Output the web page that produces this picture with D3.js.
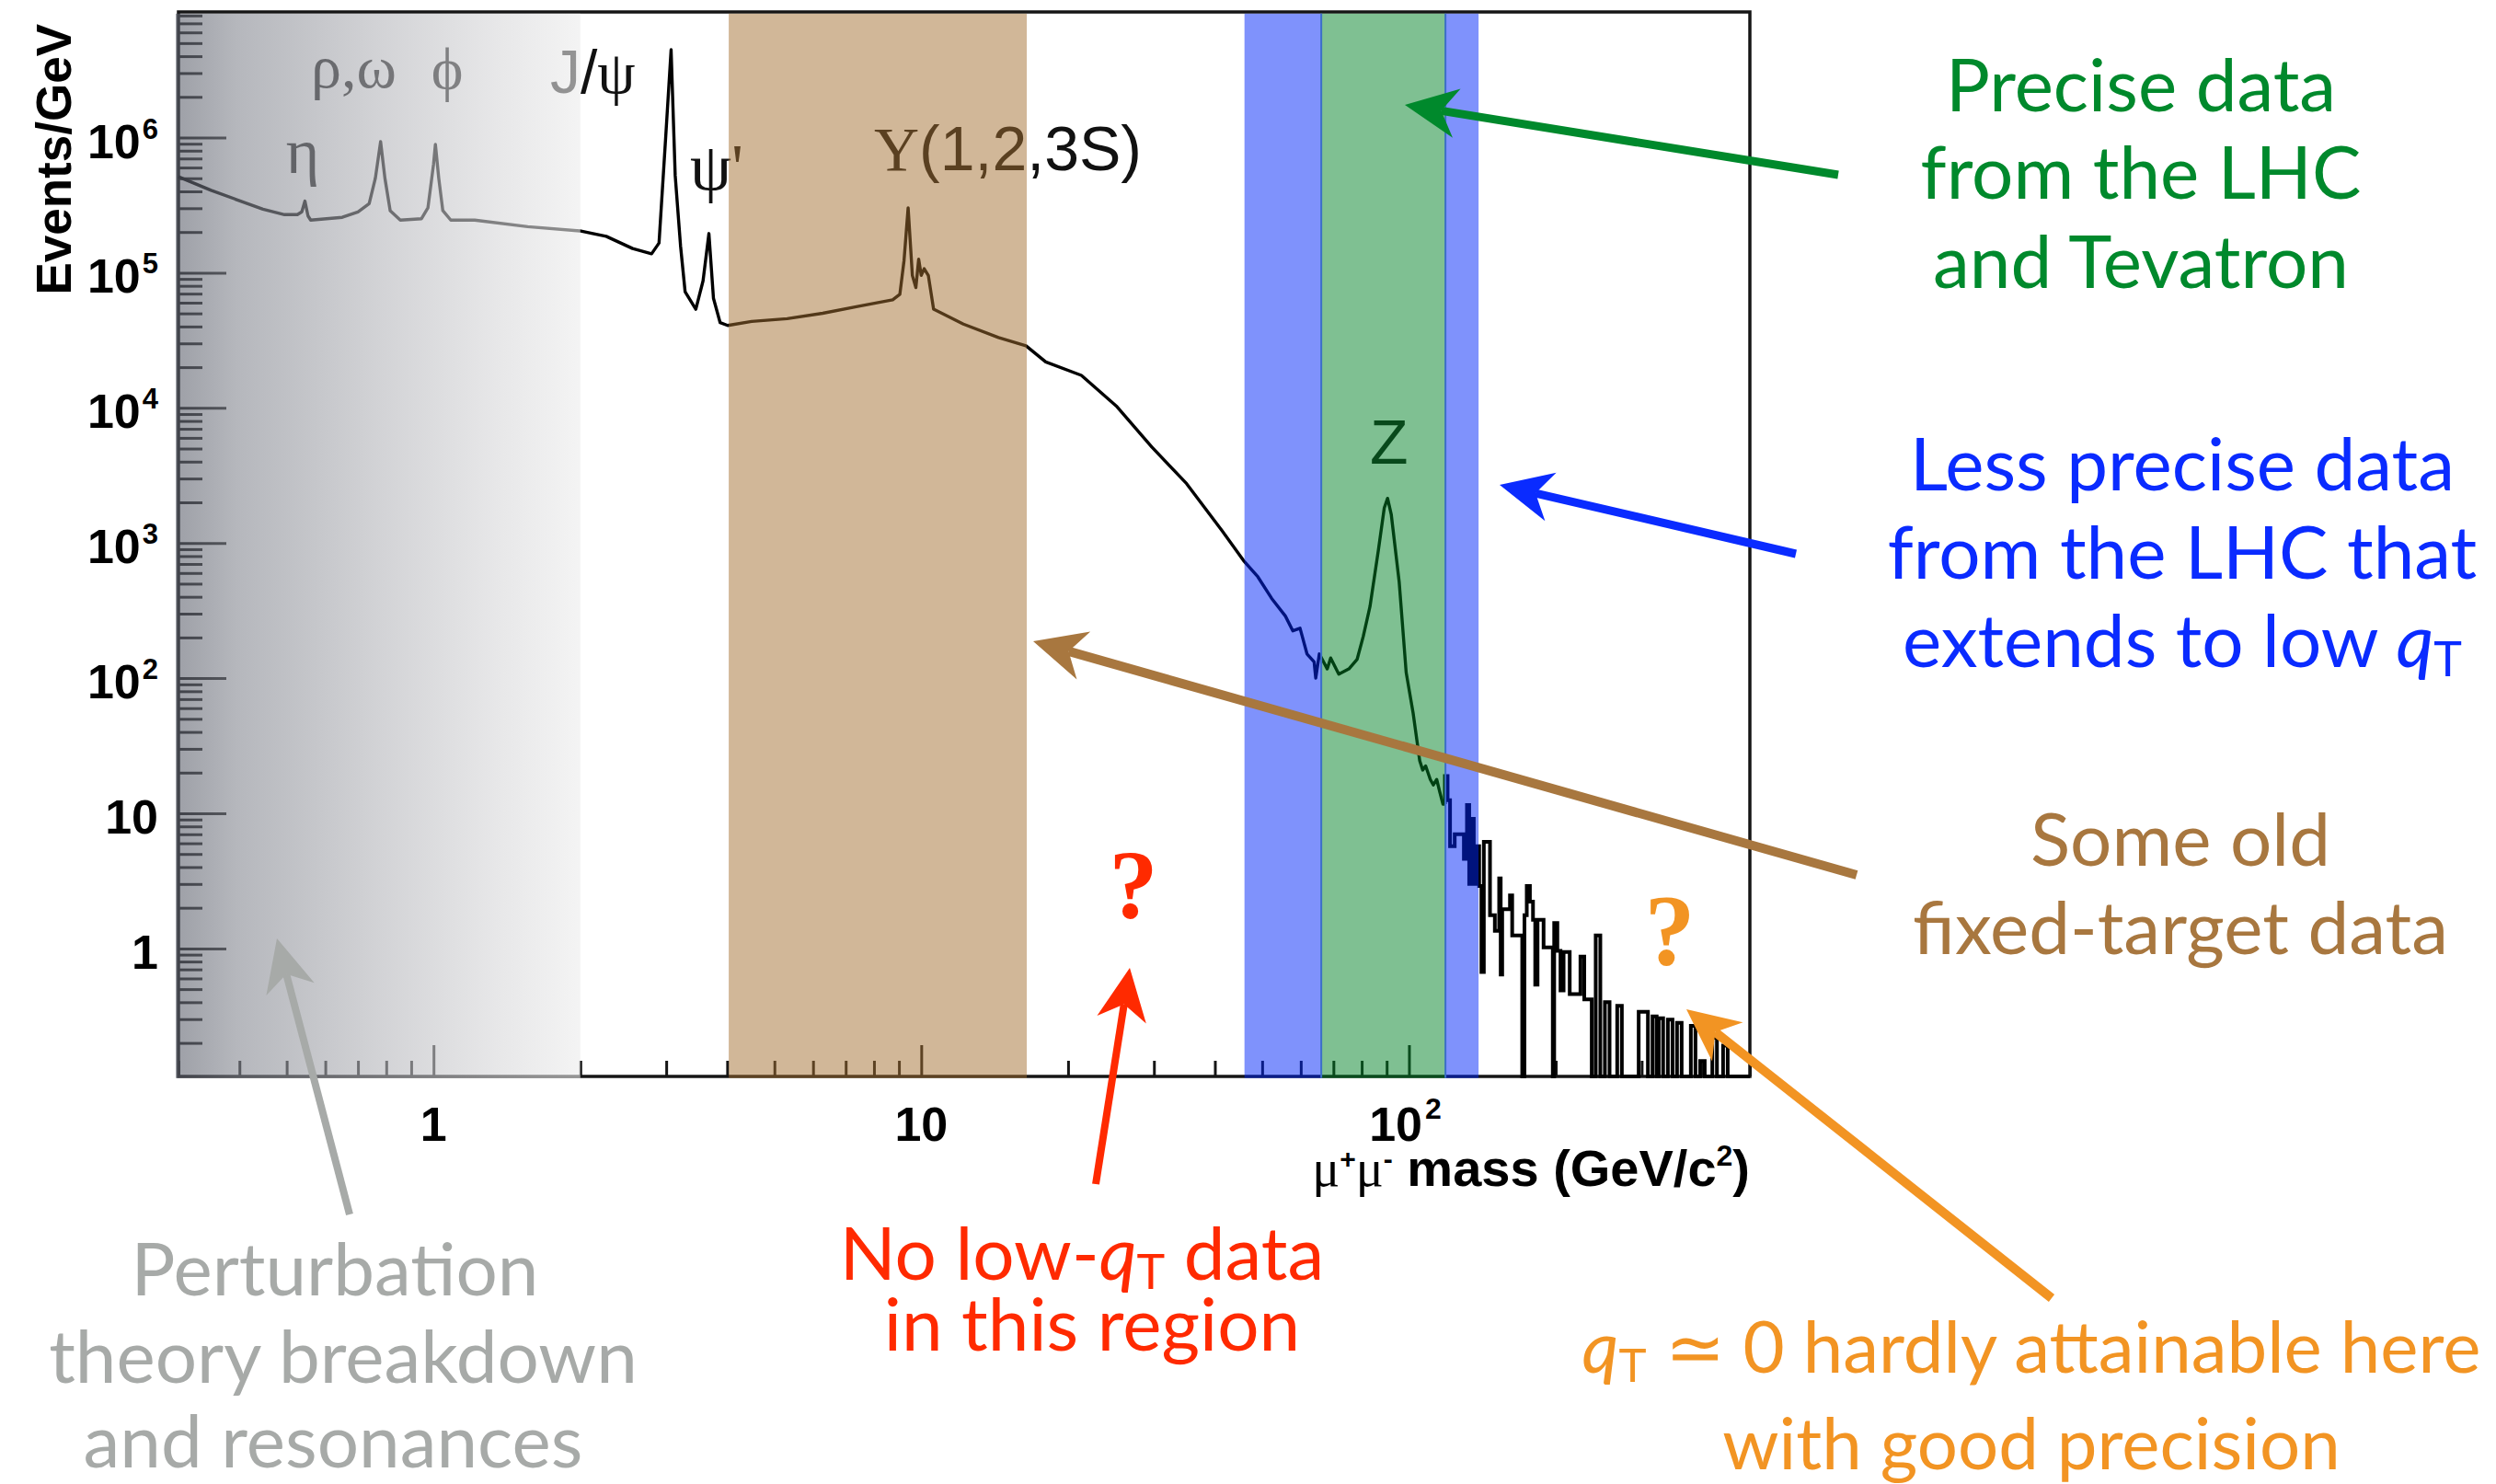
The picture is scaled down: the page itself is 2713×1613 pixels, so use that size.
<!DOCTYPE html>
<html><head><meta charset="utf-8">
<script src="https://cdn.jsdelivr.net/npm/d3@7/dist/d3.min.js"></script>
<style>
html,body{margin:0;padding:0;background:#fff;}
svg{display:block;}
</style></head>
<body>
<svg id="chart" width="2713" height="1613"></svg>
<script>
// ================= DATA =================
// Dimuon invariant-mass spectrum (continuum part)
const massLow = [0.300,0.350,0.395,0.447,0.495,0.526,0.537,0.545,0.553,0.560,0.650,0.700,0.738,0.760,0.779,0.795,0.815,0.855,0.945,0.974,1.000,1.009,1.025,1.045,1.085,1.215,1.560,1.995,2.260,2.560,2.800,2.900,2.990,3.070,3.130,3.210,3.280,3.450,3.570,3.670,3.750,3.870,4.010,4.490,5.310,6.280,7.400,8.740,9.040,9.220,9.400,9.590,9.750,9.880,10.00,10.14,10.34,10.60,12.20,14.40,16.40,18.00,21.30,25.20,29.70,35.00,41.40,45.80,49.00,52.30,55.80,57.80,59.80,61.80,63.90,64.40,65.50,68.00,69.10,71.80,75.30,78.30,80.60,83.20,86.50,89.00,90.40,92.00,95.50,98.70,102.0,105.2,106.7,108.2,110.6,112.2,114.0,115.6,117.4,118.5];
const eventsLow = [513000,407000,347000,295000,269000,269000,282000,339000,263000,245000,257000,282000,324000,501000,933000,501000,288000,245000,251000,302000,631000,891000,501000,288000,245000,245000,219000,204000,186000,151000,138000,166000,955000,4470000,525000,158000,72400,53700,87100,195000,64600,42700,40700,43600,45700,50100,56200,63100,69200,123000,302000,95500,77600,126000,95500,107000,95500,53700,41700,33100,28800,21900,17400,10200,5130,2750,1230,741,562,389,288,224,234,151,132,100,151,117,141,107,117,138,204,339,871,1820,2140,1620,513,110,55,24.5,20.9,22.4,17.8,16.2,17.8,14.5,11.7,11.7];

// High-mass tail drawn as a histogram (bin edges and contents, 0 = empty bin)
const tailEdges = [118.5,120.0,121.4,124.1,129.6,131.5,132.9,134.4,135.8,137.3,139.3,140.8,142.4,146.6,150.0,153.1,154.2,155.3,161.1,162.8,170.7,172.5,174.4,177.0,179.6,181.5,183.5,188.8,197.2,198.5,201.5,204.5,207.5,213.6,224.7,228.8,237.0,241.5,246.8,252.2,257.8,267.3,273.2,295.8,309.0,315.8,322.0,325.1,332.0,339.5,347.0,354.5,362.3,378.4,386.7,395.4,404.0,418.8,428.0,440.6,450.3,500];
const tailValues = [18.9,12.5,5.7,7.0,4.6,11.5,3.0,9.1,3.0,5.7,2.9,0.67,6.15,1.76,1.35,3.3,0.64,1.95,2.47,1.25,0,1.76,2.9,2.22,1.63,0.54,1.63,1.02,0,1.54,0.96,0.49,0.94,0.46,0.87,0.42,0,1.25,0,0.40,0,0.377,0,0.34,0,0.314,0,0.305,0,0.298,0,0.282,0,0.268,0,0.147,0,0.218,0,0.191,0];

// Highlighted mass ranges (GeV)
const bandKeys = ["pert","fixed","lhcLowA","precise","lhcLowB"];
const bandLo   = [0.3, 4.03, 46.0, 66.1, 118.8];
const bandHi   = [2.0, 16.46, 66.1, 118.8, 138.9];

// Axes
const xDomain = [0.3, 500];
const yDomain = [0.113, 8.5e6];
const xMajorTicks = [1, 10, 100];
const xMajorBase = ["1", "10", "10"];
const xMajorExp  = ["", "", "2"];
const yMajorTicks = [1, 10, 100, 1e3, 1e4, 1e5, 1e6];
const yMajorBase = ["1","10","10","10","10","10","10"];
const yMajorExp  = ["","","2","3","4","5","6"];

// ================= LAYOUT =================
const W = 2713, H = 1613;
const L = 194, R = 1902, T = 13, B = 1170;
const svg = d3.select("#chart");
svg.append("rect").attr("width", W).attr("height", H).attr("fill", "#fff");

const x = d3.scaleLog().domain(xDomain).range([L, R]);
const y = d3.scaleLog().domain(yDomain).range([B, T]).clamp(true);

const SANS = "'Liberation Sans', Arial, Helvetica, sans-serif";
const SERIF = "'Liberation Serif', 'DejaVu Serif', 'Times New Roman', serif";
const HUM = "Lato, 'Open Sans', sans-serif";

function minorTicks(lo, hi) {
  const out = [];
  for (let e = -2; e <= 7; e++) for (let k = 2; k <= 9; k++) {
    const v = k * Math.pow(10, e);
    if (v >= lo * 0.999 && v <= hi * 1.001) out.push(v);
  }
  return out;
}
const xMinor = minorTicks(xDomain[0], xDomain[1]);
const yMinor = minorTicks(yDomain[0], yDomain[1]);

const plot = svg.append("g");

// ---- frame & axes ----
const axisCol = "#151515";
plot.append("rect").attr("x", L).attr("y", T).attr("width", R - L).attr("height", B - T)
  .attr("fill", "none").attr("stroke", axisCol).attr("stroke-width", 3.5);

function styleAxis(g) {
  g.select(".domain").remove();
  g.selectAll(".tick line").attr("stroke", axisCol).attr("stroke-width", 3);
  g.selectAll(".tick text").remove();
}
plot.append("g").attr("transform", `translate(0,${B})`)
  .call(d3.axisBottom(x).tickValues(xMinor).tickSize(-17).tickFormat("")).call(styleAxis);
plot.append("g").attr("transform", `translate(0,${B})`)
  .call(d3.axisBottom(x).tickValues(xMajorTicks).tickSize(-34).tickFormat("")).call(styleAxis);
plot.append("g").attr("transform", `translate(${L},0)`)
  .call(d3.axisLeft(y).tickValues(yMinor).tickSize(-26).tickFormat("")).call(styleAxis);
plot.append("g").attr("transform", `translate(${L},0)`)
  .call(d3.axisLeft(y).tickValues(yMajorTicks).tickSize(-52).tickFormat("")).call(styleAxis);

// ---- spectrum ----
const lowPts = d3.zip(massLow, eventsLow);
const line = d3.line().x(d => x(d[0])).y(d => y(Math.max(d[1], yDomain[0])));
plot.append("path").attr("d", line(lowPts))
  .attr("fill", "none").attr("stroke", "#000").attr("stroke-width", 3.4).attr("stroke-linejoin", "round");

const tailPts = [[massLow[massLow.length - 1], eventsLow[eventsLow.length - 1]]]
  .concat(tailValues.map((v, i) => [tailEdges[i], v]))
  .concat([[tailEdges[tailEdges.length - 1], tailValues[tailValues.length - 1]]]);
const step = d3.line().curve(d3.curveStepAfter).x(d => x(d[0])).y(d => y(Math.max(d[1], yDomain[0])));
plot.append("path").attr("d", step(tailPts))
  .attr("fill", "none").attr("stroke", "#000").attr("stroke-width", 4).attr("stroke-linejoin", "miter");

// ---- resonance labels (original figure) ----
const lab = plot.append("g").attr("fill", "#111");
function addText(g, xx, yy, parts, size, anchor) {
  const t = g.append("text").attr("x", xx).attr("y", yy).attr("font-size", size)
    .attr("text-anchor", anchor || "start");
  parts.forEach(p => {
    const s = t.append("tspan").text(p[0]).attr("font-family", p[1] || SANS);
    if (p[2]) s.attr("font-size", p[2]);
  });
  return t;
}
addText(lab, 329, 188, [["η", SERIF]], 70, "middle");
addText(lab, 338, 95, [["ρ,ω", SERIF]], 66);
addText(lab, 486, 97, [["ϕ", SERIF]], 66, "middle");
addText(lab, 598, 101, [["J/", SANS], ["ψ", SERIF]], 66);
addText(lab, 750, 206, [["ψ'", SERIF]], 72);
addText(lab, 950, 185, [["Υ", SERIF], ["(1,2,3S)", SANS]], 68);
addText(lab, 1489, 504, [["Z", SANS]], 68);

// ---- highlighted regions (semi-transparent overlays) ----
const defs = svg.append("defs");
const grad = defs.append("linearGradient").attr("id", "pertGrad").attr("x1", "0").attr("x2", "1").attr("y1", "0").attr("y2", "0");
[[0, "rgb(92,96,108)"], [0.15, "rgb(132,135,144)"], [0.5, "rgb(180,181,186)"], [0.8, "rgb(216,216,218)"], [1, "rgb(236,236,236)"]]
  .forEach(s => grad.append("stop").attr("offset", s[0]).attr("stop-color", s[1]).attr("stop-opacity", 0.6));

const bandFill = {pert: "url(#pertGrad)", fixed: "rgb(163,111,49)", lhcLowA: "rgb(0,37,249)", precise: "rgb(0,129,37)", lhcLowB: "rgb(0,37,249)"};
const bandOp = {pert: 1, fixed: 0.5, lhcLowA: 0.5, precise: 0.5, lhcLowB: 0.5};
bandKeys.forEach((k, i) => {
  const x0 = x(bandLo[i]) - (i === 0 ? 3 : 0);
  plot.append("rect").attr("x", x0).attr("y", T + 1.8)
    .attr("width", x(bandHi[i]) - x0).attr("height", B - T)
    .attr("fill", bandFill[k]).attr("fill-opacity", bandOp[k]);
});
[bandLo[3], bandHi[3]].forEach(m => {
  plot.append("line").attr("x1", x(m)).attr("x2", x(m)).attr("y1", T + 1.8).attr("y2", B + 1.8)
    .attr("stroke", "rgb(60,110,200)").attr("stroke-width", 2);
});

// ---- tick labels & axis titles ----
const axl = svg.append("g").attr("fill", "#000").attr("font-family", SANS).attr("font-weight", "bold");
yMajorTicks.forEach((v, i) => {
  const t = axl.append("text").attr("x", 172).attr("y", y(v) + 22).attr("text-anchor", "end").attr("font-size", 52);
  t.append("tspan").text(yMajorBase[i]);
  if (yMajorExp[i]) t.append("tspan").text(yMajorExp[i]).attr("font-size", 31).attr("dx", 2).attr("dy", -21);
});
xMajorTicks.forEach((v, i) => {
  const t = axl.append("text").attr("x", x(v) - (xMajorExp[i] ? 4 : 0)).attr("y", 1240).attr("text-anchor", "middle").attr("font-size", 52);
  t.append("tspan").text(xMajorBase[i]);
  if (xMajorExp[i]) t.append("tspan").text(xMajorExp[i]).attr("font-size", 32).attr("dx", 3).attr("dy", -24);
});
{
  const t = axl.append("text").attr("x", R).attr("y", 1289).attr("text-anchor", "end").attr("font-size", 56);
  t.append("tspan").text("μ").attr("font-family", SERIF).attr("font-weight", "normal");
  t.append("tspan").text("+").attr("font-size", 30).attr("dy", -19);
  t.append("tspan").text("μ").attr("font-family", SERIF).attr("font-weight", "normal").attr("dy", 19);
  t.append("tspan").text("-").attr("font-size", 30).attr("dy", -19);
  t.append("tspan").text(" mass (GeV/c").attr("dy", 19);
  t.append("tspan").text("2").attr("font-size", 32).attr("dy", -22);
  t.append("tspan").text(")").attr("dy", 22);
}
axl.append("text").attr("transform", "translate(77,26) rotate(-90)").attr("text-anchor", "end")
  .attr("font-size", 53).text("Events/GeV");

// ---- annotations ----
const ann = svg.append("g");
function arrow(tail, tip, color, w) {
  const dx = tail[0] - tip[0], dy = tail[1] - tip[1];
  const len = Math.hypot(dx, dy), ux = dx / len, uy = dy / len;
  const nx = -uy, ny = ux;
  const hl = 57, hw = 27, notch = 40;
  const base = [tip[0] + ux * notch, tip[1] + uy * notch];
  ann.append("line").attr("x1", tail[0]).attr("y1", tail[1]).attr("x2", base[0]).attr("y2", base[1])
    .attr("stroke", color).attr("stroke-width", w);
  const pts = [tip, [tip[0] + ux * hl + nx * hw, tip[1] + uy * hl + ny * hw], base,
               [tip[0] + ux * hl - nx * hw, tip[1] + uy * hl - ny * hw]];
  ann.append("polygon").attr("points", pts.map(p => p.join(",")).join(" ")).attr("fill", color);
}
const cGreen = "#00892c", cBlue = "#0a2bff", cBrown = "#a8773f", cOrange = "#f29423", cRed = "#ff2a00", cGray = "#a7aaa8";
arrow([1998, 190], [1527, 114], cGreen, 9);
arrow([1952, 602], [1630, 527], cBlue, 9);
arrow([2018, 951], [1123, 697], cBrown, 10);
arrow([1191, 1287], [1228, 1052], cRed, 8);
arrow([2230, 1411], [1833, 1097], cOrange, 10);
arrow([380, 1320], [301, 1020], cGray, 8);

function block(lines, color, size) {
  lines.forEach(l => {
    const t = ann.append("text").attr("x", l[0]).attr("y", l[1]).attr("text-anchor", "middle")
      .attr("font-family", HUM).attr("font-size", size).attr("fill", color);
    l[2].forEach(p => {
      const s = t.append("tspan").text(p[0]);
      if (p[1]) s.attr("font-style", p[1]);
      if (p[2]) s.attr("font-size", p[2]);
      if (p[3]) s.attr("dy", p[3]);
    });
  });
}
block([[2327, 121, [["Precise data"]]], [2327, 216, [["from the LHC"]]], [2327, 313, [["and Tevatron"]]]], cGreen, 80);
block([[2372, 533, [["Less precise data"]]], [2372, 629, [["from the LHC that"]]],
       [2372, 725, [["extends to low "], ["q", "italic"], ["T", null, 52, 10]]]], cBlue, 80);
block([[2370, 941, [["Some old"]]], [2370, 1037, [["fixed-target data"]]]], cBrown, 80);
block([[2208, 1492, [["q", "italic"], ["T", null, 51, 10], [" ≃ 0 hardly attainable here", null, null, -10]]],
       [2208, 1597, [["with good precision"]]]], cOrange, 78);
block([[1176, 1391, [["No low-"], ["q", "italic"], ["T", null, 52, 10], [" data", null, null, -10]]],
       [1187, 1468, [["in this region"]]]], cRed, 80);
block([[364, 1408, [["Perturbation"]]], [373, 1503, [["theory breakdown"]]], [362, 1595, [["and resonances"]]]], cGray, 80);

ann.append("text").attr("x", 1232).attr("y", 998).attr("text-anchor", "middle").attr("font-family", SERIF)
  .attr("font-weight", "bold").attr("font-size", 106).attr("fill", cRed).text("?");
ann.append("text").attr("x", 1815).attr("y", 1048).attr("text-anchor", "middle").attr("font-family", SERIF)
  .attr("font-weight", "bold").attr("font-size", 110).attr("fill", cOrange).text("?");
</script>
</body></html>
